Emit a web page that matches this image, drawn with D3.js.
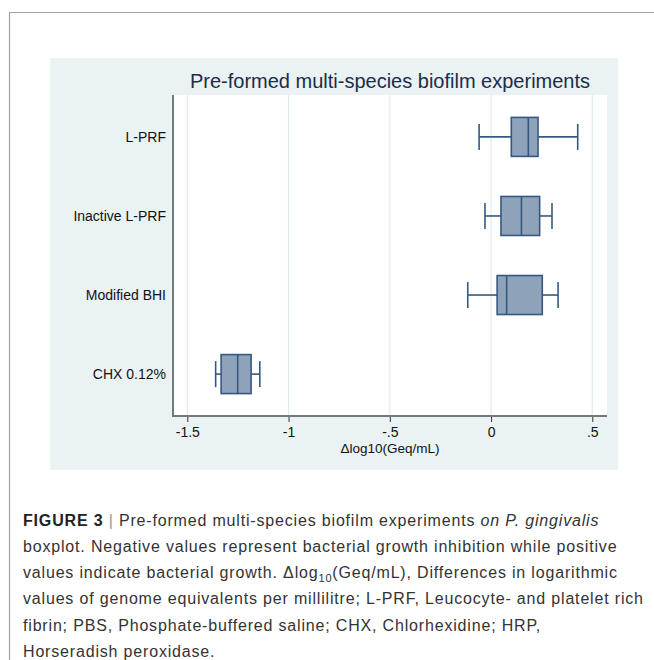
<!DOCTYPE html>
<html>
<head>
<meta charset="utf-8">
<script src="https://cdn.jsdelivr.net/npm/d3@7"></script>
<style>
  body { margin: 0; background: #fff; }
  svg { display: block; }
  text { font-family: "Liberation Sans", Arial, sans-serif; }
</style>
</head>
<body>
<svg id="chart" width="654" height="660"></svg>
<script>
// data
var categories = ["L-PRF", "Inactive L-PRF", "Modified BHI", "CHX 0.12%"];
var whiskerLow  = [-0.059, -0.030, -0.115, -1.360];
var q1          = [ 0.100,  0.049,  0.030, -1.333];
var median      = [ 0.184,  0.150,  0.077, -1.251];
var q3          = [ 0.232,  0.240,  0.253, -1.185];
var whiskerHigh = [ 0.428,  0.301,  0.331, -1.142];

var tickValues = [-1.5, -1, -0.5, 0, 0.5];
var tickLabels = ["-1.5", "-1", "-.5", "0", ".5"];

var captionLines = [
  [{t: "FIGURE 3", b: true}, {t: " | ", c: "#999"}, {t: "Pre-formed multi-species biofilm experiments "}, {t: "on P. gingivalis", i: true}],
  [{t: "boxplot. Negative values represent bacterial growth inhibition while positive"}],
  [{t: "values indicate bacterial growth. \u0394log"}, {t: "10", sub: true}, {t: "(Geq/mL), Differences in logarithmic"}],
  [{t: "values of genome equivalents per millilitre; L-PRF, Leucocyte- and platelet rich"}],
  [{t: "fibrin; PBS, Phosphate-buffered saline; CHX, Chlorhexidine; HRP,"}],
  [{t: "Horseradish peroxidase."}]
];
var captionWidest = 3;     // this line runs to x = 643
var captionRight = 643;

var svg = d3.select("#chart");

// outer figure frame
svg.append("path")
  .attr("d", "M9.5,660 V12.5 H654")
  .attr("fill", "none")
  .attr("stroke", "#a3a3a3")
  .attr("stroke-width", 1.2);

// graph region
svg.append("rect")
  .attr("x", 50).attr("y", 58)
  .attr("width", 568).attr("height", 412)
  .attr("fill", "#eaf2f3");

var plot = {left: 173, right: 607, top: 95, bottom: 416};

svg.append("rect")
  .attr("x", plot.left).attr("y", plot.top)
  .attr("width", plot.right - plot.left).attr("height", plot.bottom - plot.top)
  .attr("fill", "#fff");

var x = d3.scaleLinear().domain([-1.5, 0.5]).range([187.3, 592.3]);
var y = d3.scalePoint().domain(categories).range([plot.top, plot.bottom]).padding(0.53);

// gridlines
svg.append("g")
  .selectAll("line")
  .data(tickValues)
  .join("line")
  .attr("x1", d => x(d)).attr("x2", d => x(d))
  .attr("y1", plot.top).attr("y2", plot.bottom)
  .attr("stroke", "#e3eced")
  .attr("stroke-width", 1.3);

// x axis
var xAxis = svg.append("g")
  .attr("transform", `translate(0, ${plot.bottom})`)
  .call(d3.axisBottom(x).tickValues(tickValues).tickFormat((d, i) => tickLabels[i]).tickSize(6).tickPadding(5));
xAxis.select(".domain").remove();
xAxis.selectAll(".tick line").attr("stroke", "#333").attr("stroke-width", 1);
xAxis.selectAll(".tick text")
  .attr("font-size", 14)
  .attr("font-family", "Liberation Sans, Arial, sans-serif")
  .attr("fill", "#111");

// axis lines
svg.append("line")
  .attr("x1", plot.left).attr("x2", plot.right)
  .attr("y1", plot.bottom).attr("y2", plot.bottom)
  .attr("stroke", "#6f797e").attr("stroke-width", 2);
svg.append("line")
  .attr("x1", plot.left).attr("x2", plot.left)
  .attr("y1", plot.top).attr("y2", plot.bottom + 1)
  .attr("stroke", "#6f797e").attr("stroke-width", 2);

// y labels
svg.append("g")
  .selectAll("text")
  .data(categories)
  .join("text")
  .attr("x", 166)
  .attr("y", d => y(d))
  .attr("dy", "0.35em")
  .attr("text-anchor", "end")
  .attr("font-size", 14)
  .attr("fill", "#111")
  .text(d => d);

// boxes
var boxH = 39, capH = 26;
var stroke = "#365880", fill = "#8ea3b9";
var boxes = svg.append("g")
  .selectAll("g")
  .data(categories)
  .join("g");

boxes.append("line")
  .attr("x1", (d, i) => x(whiskerLow[i])).attr("x2", (d, i) => x(q1[i]))
  .attr("y1", d => y(d)).attr("y2", d => y(d));
boxes.append("line")
  .attr("x1", (d, i) => x(q3[i])).attr("x2", (d, i) => x(whiskerHigh[i]))
  .attr("y1", d => y(d)).attr("y2", d => y(d));
boxes.append("line")
  .attr("x1", (d, i) => x(whiskerLow[i])).attr("x2", (d, i) => x(whiskerLow[i]))
  .attr("y1", d => y(d) - capH / 2).attr("y2", d => y(d) + capH / 2);
boxes.append("line")
  .attr("x1", (d, i) => x(whiskerHigh[i])).attr("x2", (d, i) => x(whiskerHigh[i]))
  .attr("y1", d => y(d) - capH / 2).attr("y2", d => y(d) + capH / 2);
boxes.append("rect")
  .attr("x", (d, i) => x(q1[i]))
  .attr("width", (d, i) => x(q3[i]) - x(q1[i]))
  .attr("y", d => y(d) - boxH / 2)
  .attr("height", boxH)
  .attr("fill", fill);
boxes.append("line")
  .attr("x1", (d, i) => x(median[i])).attr("x2", (d, i) => x(median[i]))
  .attr("y1", d => y(d) - boxH / 2).attr("y2", d => y(d) + boxH / 2);
boxes.selectAll("line, rect")
  .attr("stroke", stroke)
  .attr("stroke-width", 1.6);

// title
svg.append("text")
  .attr("x", 390).attr("y", 88)
  .attr("text-anchor", "middle")
  .attr("font-size", 20)
  .attr("fill", "#1d2b4c")
  .text("Pre-formed multi-species biofilm experiments");

// axis title
svg.append("text")
  .attr("x", 390).attr("y", 453)
  .attr("text-anchor", "middle")
  .attr("font-size", 13.5)
  .attr("fill", "#111")
  .text("\u0394log10(Geq/mL)");

// caption
var cap = svg.append("g");
var capTexts = captionLines.map(function(parts, li) {
  var t = cap.append("text")
    .attr("x", 23)
    .attr("y", 525.5 + li * 26.3)
    .attr("font-size", 16)
    .attr("fill", "#333");
  parts.forEach(function(p, k) {
    var s = t.append("tspan").text(p.t);
    if (p.b) s.attr("font-weight", "bold").attr("fill", "#222");
    if (p.i) s.attr("font-style", "italic");
    if (p.c) s.attr("fill", p.c);
    if (p.sub) s.attr("font-size", 11).attr("dy", 4);
    if (k > 0 && parts[k - 1].sub) s.attr("dy", -4);
  });
  return t;
});
// one letter-spacing for all lines, fitted on the widest line
var wt = capTexts[captionWidest];
var wn = captionLines[captionWidest].map(p => p.t).join("").length;
var spacing = (captionRight - 23 - wt.node().getComputedTextLength()) / (wn - 1);
capTexts.forEach(t => t.attr("letter-spacing", spacing));
</script>
</body>
</html>
